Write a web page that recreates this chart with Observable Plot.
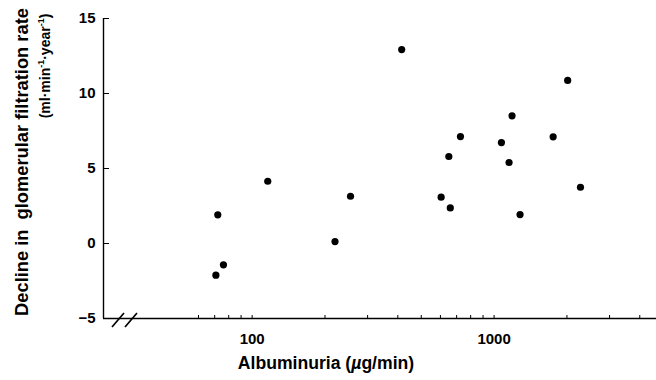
<!DOCTYPE html>
<html><head><meta charset="utf-8">
<script src="https://cdn.jsdelivr.net/npm/d3@7"></script>
<script src="https://cdn.jsdelivr.net/npm/@observablehq/plot@0.6"></script>
<style>
html,body{margin:0;padding:0;background:#fff;}
#chart svg{font-family:"Liberation Sans", Arial, Helvetica, sans-serif;}
</style></head><body><div id="chart"></div>
<script>
// Data
const albuminuria = [415, 2014, 1186, 726, 1754, 1072, 650, 1153, 2275, 116, 255, 604, 659, 1280, 72.1, 220, 76.1, 70.8];
const gfrDecline  = [12.93, 10.87, 8.51, 7.13, 7.11, 6.73, 5.8, 5.4, 3.75, 4.15, 3.15, 3.09, 2.37, 1.93, 1.91, 0.13, -1.42, -2.11];
const xTickLabels = [100, 1000];
const xMinorTicks = [60, 70, 80, 90, 100, 200, 300, 400, 500, 600, 700, 800, 900, 1000, 2000, 3000, 4000];
const yTickLabels = [-5, 0, 5, 10, 15];
const xDomain = [24.3, 4690];
const yDomain = [-5, 15];
const xTitle = "Albuminuria (";
const yTitle1 = "Decline in  glomerular filtration rate";

const data = albuminuria.map((a, i) => ({a, g: gfrDecline[i]}));

const plot = Plot.plot({
  width: 656, height: 380,
  marginLeft: 103, marginRight: 0, marginTop: 18, marginBottom: 62,
  style: {fontFamily: "Liberation Sans, Arial, sans-serif", fontSize: "15px", fontWeight: "bold", color: "#000", background: "#fff", overflow: "visible"},
  x: {type: "log", domain: xDomain},
  y: {domain: yDomain},
  marks: [
    Plot.ruleY([yDomain[0]], {stroke: "#000", strokeWidth: 1.4}),
    Plot.ruleX([xDomain[0]], {stroke: "#000", strokeWidth: 1.4}),
    Plot.axisY({ticks: yTickLabels, tickSize: 6, dx: 6, tickFormat: () => "", label: null, stroke: "#000"}),
    Plot.axisY({ticks: yTickLabels, tickSize: 0, tickPadding: 8, tickFormat: d3.format("d"), label: null, fontSize: 15, fontWeight: "bold", fill: "#000"}),
    Plot.axisX({ticks: xMinorTicks, tickSize: 3, dy: -3, tickFormat: () => "", label: null, stroke: "#000"}),
    Plot.axisX({ticks: xTickLabels, tickSize: 0, tickPadding: 15, tickFormat: d3.format("d"), label: null, fontSize: 15, fontWeight: "bold", fill: "#000"}),
    Plot.dot(data, {x: "a", y: "g", r: 3.6, fill: "#000", stroke: "none"})
  ]
});
document.getElementById("chart").appendChild(plot);

// Decorations: axis break marks and axis titles
const svg = d3.select(plot);
const xs = plot.scale("x"), ys = plot.scale("y");
const x0 = xs.range[0], yb = ys.range[0];
[9, 22].forEach(off => {
  svg.append("line").attr("x1", x0 + off).attr("y1", yb + 9)
     .attr("x2", x0 + off + 12).attr("y2", yb - 5)
     .attr("stroke", "#000").attr("stroke-width", 1.7);
});

const xt = svg.append("text").attr("x", 326).attr("y", 369)
  .attr("text-anchor", "middle").attr("font-size", 17.6).attr("font-weight", "bold").attr("fill", "#000");
xt.append("tspan").text(xTitle);
xt.append("tspan").attr("font-style", "italic").text("µ");
xt.append("tspan").text("g/min)");

svg.append("text").attr("transform", "translate(28,162) rotate(-90)")
  .attr("text-anchor", "middle").attr("font-size", 18.3).attr("font-weight", "bold").attr("fill", "#000")
  .style("white-space", "pre").text(yTitle1);

const yt2 = svg.append("text").attr("transform", "translate(50,66) rotate(-90)")
  .attr("text-anchor", "middle").attr("font-size", 14).attr("font-weight", "bold").attr("fill", "#000");
yt2.append("tspan").text("(ml·min");
yt2.append("tspan").attr("font-size", 9).attr("dy", -6).text("-1");
yt2.append("tspan").attr("dy", 6).text("·year");
yt2.append("tspan").attr("font-size", 9).attr("dy", -6).text("-1");
yt2.append("tspan").attr("dy", 6).text(")");
</script>
</body></html>
